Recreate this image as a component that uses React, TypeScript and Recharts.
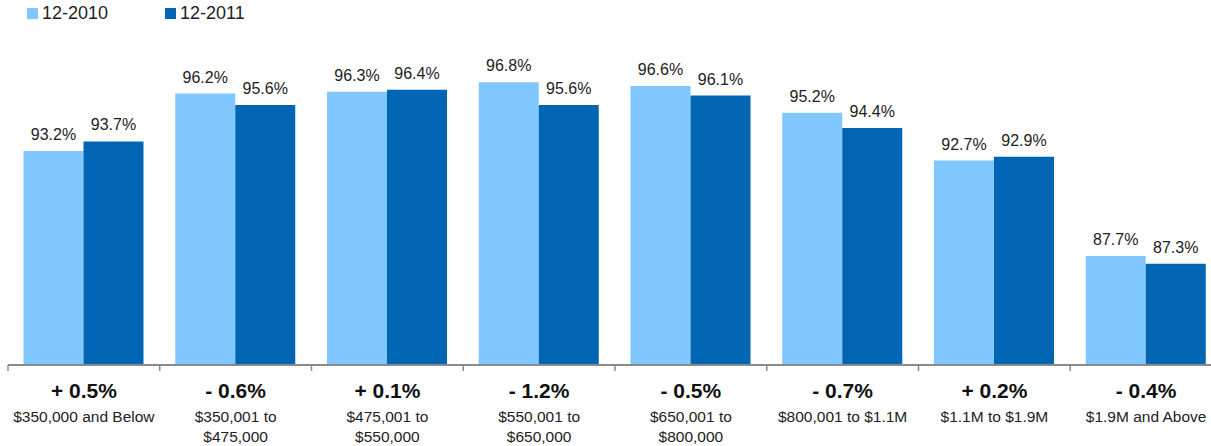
import { BarChart, Bar, XAxis, YAxis, LabelList } from "recharts";

const categories = [
  ["$350,000 and Below"],
  ["$350,001 to", "$475,000"],
  ["$475,001 to", "$550,000"],
  ["$550,001 to", "$650,000"],
  ["$650,001 to", "$800,000"],
  ["$800,001 to $1.1M"],
  ["$1.1M to $1.9M"],
  ["$1.9M and Above"],
];
const changes = ["+ 0.5%", "- 0.6%", "+ 0.1%", "- 1.2%", "- 0.5%", "- 0.7%", "+ 0.2%", "- 0.4%"];
const dec2010 = [93.2, 96.2, 96.3, 96.8, 96.6, 95.2, 92.7, 87.7];
const dec2011 = [93.7, 95.6, 96.4, 95.6, 96.1, 94.4, 92.9, 87.3];

const LIGHT = "#80C7FF";
const DARK = "#0066B3";
const FONT = "'Liberation Sans', Arial, Helvetica, sans-serif";

const data = categories.map((lines, i) => ({
  key: String(i),
  s2010: dec2010[i],
  s2011: dec2011[i],
}));

const CHART_W = 1222;
const PLOT_W = CHART_W - 8;
const BAND = PLOT_W / categories.length;

const CategoryTick = (props: any) => {
  const { x, payload } = props;
  const i = Number(payload.value);
  const lines = categories[i];
  const axisY = 365;
  return (
    <g>
      <line x1={x - BAND / 2} x2={x - BAND / 2} y1={axisY} y2={axisY + 6} stroke="#8a8a8a" strokeWidth={1.5} />
      {i === categories.length - 1 && (
        <line x1={x + BAND / 2} x2={x + BAND / 2} y1={axisY} y2={axisY + 6} stroke="#8a8a8a" strokeWidth={1.5} />
      )}
      <text x={x} y={axisY + 33} textAnchor="middle" fontFamily={FONT} fontSize={21} fontWeight="bold" fill="#111">
        {changes[i]}
      </text>
      {lines.map((ln, j) => (
        <text key={j} x={x} y={axisY + 57 + j * 20} textAnchor="middle" fontFamily={FONT} fontSize={15.5} fill="#222">
          {ln}
        </text>
      ))}
    </g>
  );
};

const fmt = (v: any) => `${Number(v).toFixed(1)}%`;

export default function App() {
  return (
    <div style={{ position: "absolute", left: 0, top: 0, width: 1211, height: 446, overflow: "hidden", background: "#fff" }}>
      <div style={{ position: "absolute", left: 27, top: 3, display: "flex", fontFamily: FONT, fontSize: 18, color: "#222" }}>
        <div style={{ display: "flex", alignItems: "center", width: 138 }}>
          <span style={{ width: 11, height: 11, background: LIGHT, marginRight: 4 }} />
          12-2010
        </div>
        <div style={{ display: "flex", alignItems: "center" }}>
          <span style={{ width: 11, height: 11, background: DARK, marginRight: 4 }} />
          12-2011
        </div>
      </div>
      <BarChart
        width={CHART_W}
        height={446}
        data={data}
        margin={{ top: 21, right: 0, left: 8, bottom: 0 }}
        barCategoryGap={15.5}
        barGap={0}
      >
        <XAxis
          dataKey="key"
          height={81}
          interval={0}
          tickLine={false}
          axisLine={{ stroke: "#8a8a8a", strokeWidth: 2 }}
          tick={<CategoryTick />}
        />
        <YAxis hide domain={[82, 100]} allowDataOverflow />
        <Bar dataKey="s2010" fill={LIGHT} isAnimationActive={false}>
          <LabelList dataKey="s2010" position="top" offset={11} formatter={fmt} fill="#222" fontFamily={FONT} fontSize={16} />
        </Bar>
        <Bar dataKey="s2011" fill={DARK} isAnimationActive={false}>
          <LabelList dataKey="s2011" position="top" offset={11} formatter={fmt} fill="#222" fontFamily={FONT} fontSize={16} />
        </Bar>
      </BarChart>
    </div>
  );
}
